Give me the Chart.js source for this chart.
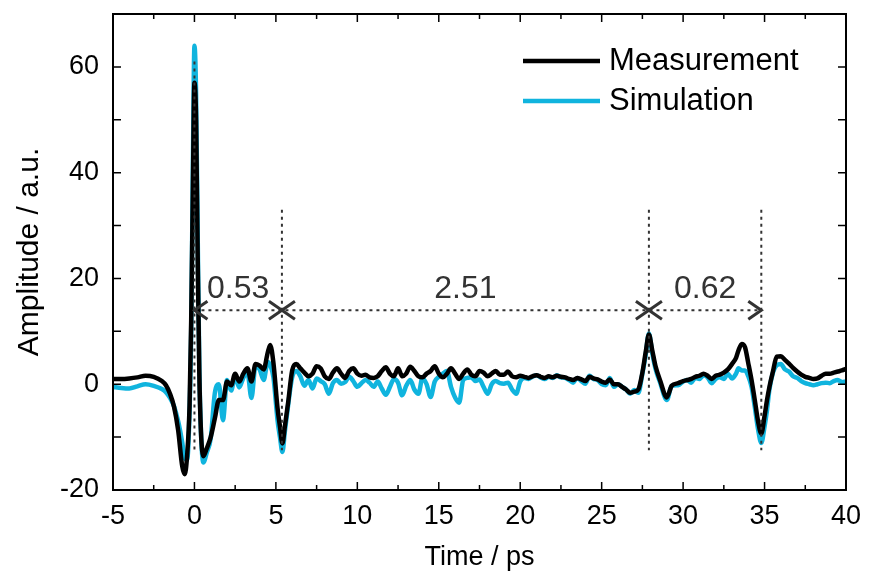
<!doctype html>
<html>
  <head>
    <title>Measurement vs Simulation</title>
    <script src="https://cdn.jsdelivr.net/npm/chart.js"></script>
    <style>
      body {
        margin: 0;
        background: #fff;
      }
      #wrap {
        width: 875px;
        height: 582px;
      }
    </style>
  </head>
  <body>
    <div id="wrap"><canvas id="pulse" width="875" height="582"></canvas></div>

    <script>
      // time axis in ps (shared by both traces)
      const timePs = [
        -5, -4.5, -4, -3.5, -3, -2.5, -2, -1.75, -1.5, -1.25, -1, -0.75, -0.6, -0.45, -0.3, -0.2, -0.1, 0, 0.1, 0.2, 0.3, 0.4, 0.55, 0.75, 1,
        1.25, 1.5, 1.75, 2, 2.25, 2.5, 2.75, 3, 3.25, 3.5, 3.75, 4, 4.25, 4.5, 4.65, 4.85, 5.1, 5.25, 5.4, 5.55, 5.75, 6, 6.25, 6.5,
        6.75, 7, 7.25, 7.5, 7.75, 8, 8.25, 8.5,
        8.75, 9, 9.25, 9.5, 9.75, 10, 10.25, 10.5,
        10.75, 11, 11.25, 11.5, 11.75, 12, 12.25, 12.5,
        12.75, 13, 13.25, 13.5, 13.75, 14, 14.25, 14.5,
        14.75, 15, 15.25, 15.5, 15.75, 16, 16.25, 16.5,
        16.75, 17, 17.25, 17.5, 17.75, 18, 18.25, 18.5,
        18.75, 19, 19.25, 19.5, 19.75, 20,
        20.25, 20.5, 20.75, 21, 21.25, 21.5, 21.75, 22,
        22.25, 22.5, 22.75, 23, 23.25, 23.5, 23.75, 24,
        24.25, 24.5, 24.75, 25, 25.25, 25.5, 25.75, 26,
        26.25, 26.5, 26.75, 27, 27.25, 27.5,
        27.7, 27.9, 28.1, 28.3, 28.6, 29, 29.3, 29.7, 30,
        30.25, 30.5, 30.75, 31, 31.25, 31.5, 31.75, 32, 32.25, 32.5, 32.75, 33, 33.25,
        33.4, 33.6, 33.8, 34, 34.2, 34.4, 34.6, 34.8, 35, 35.15, 35.3, 35.5,
        35.75, 36, 36.25, 36.5, 36.75, 37, 37.25, 37.5, 37.75, 38, 38.25, 38.5, 38.75, 39, 39.25, 39.5, 39.75, 40,
      ];

      const measurement = [
        1.0, 1.0, 1.1, 1.3, 1.6, 1.4, 0.6, -0.2, -1.8, -4.3, -8.7, -15.5, -17.0, -13.5, -4, 12, 36, 57, 50, 24, 2, -9, -13.6, -12.2, -10.0,
        -6.5, -3.0, -3.0, 0.5, -0.2, 2.0, 0.5, 2.0, 3.0, 0.5, 3.8, 3.5, 2.8, 6.0, 7.4, 4.0, -4.5, -8.0, -11.2, -8.0, -3.5, 2.6, 3.8, 3.0,
        2.2, 1.5, 2.0, 3.4, 3.0, 1.5, 1.0, 2.2,
        3.0, 2.0, 1.2, 2.5, 3.0, 2.0, 1.6, 1.8,
        1.3, 1.2, 1.5, 2.5, 3.2, 2.0, 1.5, 3.0,
        1.5, 2.0, 3.3, 2.5, 1.5, 1.3, 2.0, 2.5,
        3.4, 2.0, 1.3, 2.0, 3.0, 2.0, 1.0, 2.0,
        2.8, 1.8, 1.5, 2.5, 2.2, 1.5, 2.0, 2.5,
        1.8, 1.8, 2.4, 1.5, 1.3, 1.6,
        1.4, 1.2, 1.5, 1.7, 1.4, 1.2, 1.5, 1.3,
        1.6, 1.4, 1.3, 1.0, 0.8, 1.2, 0.9, 0.6,
        1.4, 1.1, 0.9, 0.5, 0.3, 0.9, 0.0, 0.0,
        -0.5, -1.0, -1.6, -1.4, -1.0, 2.2,
        6.0, 9.4, 6.5, 3.5, 0.6, -2.5, -0.3, 0.2, 0.6,
        0.8, 1.0, 1.4, 1.6, 2.0, 1.6, 1.0, 1.6, 1.8, 2.2, 2.8, 3.8, 5.0,
        6.4, 7.6, 7.0, 4.0, 0.8, -3.0, -7.0, -9.3, -6.0, -3.0, -0.5, 2.2,
        5.2, 5.3, 4.6, 3.9, 3.1, 2.4, 1.8, 1.4, 1.2, 1.0, 1.1, 1.6, 2.0, 2.0, 2.2, 2.4, 2.6, 2.9,
      ];

      const simulation = [
        -0.5, -0.7, -0.8, -0.4, 0.0, -0.3, -0.9, -1.5, -2.6, -4.2, -7.0, -11.0, -14.0, -14.3, -5.0, 10, 40, 64, 55, 28, 3, -9, -14.8, -13.0, -10.2,
        -1.7, 0.0, -6.8, 0.8, -1.2, 1.5, -0.6, 1.2, 2.3, -2.6, 3.5, 2.8, 0.8, 4.2, 3.6, 1.3, -6.8, -10.0, -12.8, -9.0, -4.0, 1.3, 2.5, 1.5,
        -0.3, 0.8, -0.8, 1.1, 0.6, 0.0, -1.8, 0.2,
        0.8, 0.1, 0.4, 1.4, 0.6, -0.5, 0.2, 0.8,
        0.3, -0.5, 0.5, -0.8, -2.0, -0.5, 1.0, 0.3,
        -2.1, -0.3, 0.8, -1.0, -1.8, 1.2, 0.0, -2.4,
        0.5, 1.4, 2.0, 2.5, -0.5, -2.5, -3.5, 0.8,
        1.2, 1.3, 0.6, 0.9, -0.5, -1.8, 0.0, 0.6,
        0.2, 0.1, 0.3, -1.0, -1.8, 0.5,
        1.2, 1.0, 1.4, 1.7, 1.3, 1.0, 1.4, 1.2,
        1.7, 1.3, 1.2, 0.8, 0.3, 1.2, 0.6, 0.1,
        1.6, 1.0, 0.8, 0.0, -0.2, 1.2, -0.5, 0.0,
        -0.5, -1.0, -1.8, -1.1, -1.6, 2.0,
        5.5, 9.6, 6.0, 3.0, 0.2, -3.0, -0.3, -0.2, 0.5,
        0.8, 0.3, 1.2, 1.0, 1.7, 1.3, 0.2, 1.0, 1.3, 1.0, 2.0, 1.1, 2.0,
        3.0, 2.6, 2.6, 1.5, -0.5, -4.3, -8.5, -11.1, -8.0, -4.9, -1.0, 2.0,
        3.6, 3.8, 2.8, 2.4, 1.5, 1.2, 0.6, 0.2, 0.0, -0.2, 0.0, 0.2, 0.3, 0.2, 0.6, 0.8, 0.4, 0.5,
      ];

      // echo positions (ps) and the spacings written between them
      const markerTimes = [0, 5.37, 27.9, 34.8];
      const spacingLabels = ['0.53', '2.51', '0.62'];
      const arrowLevel = 14;

      const seriesNames = ['Measurement', 'Simulation'];
      const seriesColors = ['#000000', '#10b4de'];

      const FONT = "'Liberation Sans', Arial, sans-serif";

      const toPoints = (vals) => vals.map((v, i) => ({ x: timePs[i], y: v }));

      // frame, inward ticks, dotted markers, arrows, legend
      const decorations = {
        id: 'decorations',
        afterDatasetsDraw(chart) {
          const { ctx, chartArea: a, scales } = chart;
          const xs = scales.x;
          const ys = scales.y;
          ctx.save();

          // dotted markers
          ctx.strokeStyle = '#333';
          ctx.lineWidth = 2;
          ctx.setLineDash([3, 4]);
          markerTimes.forEach((t, i) => {
            const x = xs.getPixelForValue(t);
            ctx.beginPath();
            ctx.moveTo(x, ys.getPixelForValue(i === 0 ? 61 : 33));
            ctx.lineTo(x, ys.getPixelForValue(-12.5));
            ctx.stroke();
          });
          const yA = ys.getPixelForValue(arrowLevel);
          ctx.beginPath();
          ctx.moveTo(xs.getPixelForValue(markerTimes[0]), yA);
          ctx.lineTo(xs.getPixelForValue(markerTimes[markerTimes.length - 1]), yA);
          ctx.stroke();
          ctx.setLineDash([]);

          // arrow heads
          ctx.lineWidth = 3;
          ctx.strokeStyle = '#333';
          const head = (x, dir) => {
            ctx.beginPath();
            ctx.moveTo(x + dir * 13, yA - 9);
            ctx.lineTo(x, yA);
            ctx.lineTo(x + dir * 13, yA + 9);
            ctx.stroke();
          };
          for (let i = 0; i < markerTimes.length - 1; i++) {
            head(xs.getPixelForValue(markerTimes[i]), 1);
            head(xs.getPixelForValue(markerTimes[i + 1]), -1);
          }

          // spacing labels
          ctx.fillStyle = '#333';
          ctx.font = '32px ' + FONT;
          ctx.textAlign = 'center';
          ctx.textBaseline = 'bottom';
          spacingLabels.forEach((lab, i) => {
            const xm = (xs.getPixelForValue(markerTimes[i]) + xs.getPixelForValue(markerTimes[i + 1])) / 2;
            ctx.fillText(lab, xm, yA - 5);
          });

          // frame
          ctx.strokeStyle = '#000';
          ctx.lineWidth = 2;
          ctx.strokeRect(a.left, a.top, a.right - a.left, a.bottom - a.top);

          // x ticks (major every 5, minor between)
          ctx.lineWidth = 1.5;
          ctx.beginPath();
          for (let v = xs.min; v <= xs.max + 0.01; v += 2.5) {
            const x = xs.getPixelForValue(v);
            const len = Math.abs(v % 5) < 0.01 ? 8 : 5;
            ctx.moveTo(x, a.bottom);
            ctx.lineTo(x, a.bottom - len);
            ctx.moveTo(x, a.top);
            ctx.lineTo(x, a.top + len);
          }
          // y ticks every 10
          for (let v = ys.min; v <= ys.max; v += 10) {
            const y = ys.getPixelForValue(v);
            ctx.moveTo(a.left, y);
            ctx.lineTo(a.left + 8, y);
            ctx.moveTo(a.right, y);
            ctx.lineTo(a.right - 8, y);
          }
          ctx.stroke();

          // legend
          ctx.font = '31px ' + FONT;
          ctx.textAlign = 'left';
          ctx.textBaseline = 'middle';
          ctx.lineWidth = 4.5;
          seriesNames.forEach((name, i) => {
            const y = 61 + i * 40;
            ctx.strokeStyle = seriesColors[i];
            ctx.beginPath();
            ctx.moveTo(523, y);
            ctx.lineTo(600, y);
            ctx.stroke();
            ctx.fillStyle = '#000';
            ctx.fillText(name, 609, y);
          });

          ctx.restore();
        },
      };

      new Chart(document.getElementById('pulse'), {
        type: 'line',
        data: {
          datasets: [
            {
              label: seriesNames[0],
              data: toPoints(measurement),
              borderColor: seriesColors[0],
              borderWidth: 4.5,
              pointRadius: 0,
              cubicInterpolationMode: 'monotone',
            },
            {
              label: seriesNames[1],
              data: toPoints(simulation),
              borderColor: seriesColors[1],
              borderWidth: 4.5,
              pointRadius: 0,
              cubicInterpolationMode: 'monotone',
            },
          ],
        },
        options: {
          responsive: false,
          animation: false,
          layout: { padding: { top: 14, right: 29, left: 0, bottom: 0 } },
          plugins: {
            legend: { display: false },
            tooltip: { enabled: false },
          },
          scales: {
            x: {
              type: 'linear',
              min: -5,
              max: 40,
              grid: { display: false, drawTicks: false },
              border: { display: false },
              ticks: {
                stepSize: 5,
                padding: 10,
                color: '#000',
                font: { family: FONT, size: 27 },
                maxRotation: 0,
              },
              title: {
                display: true,
                text: 'Time / ps',
                color: '#000',
                font: { family: FONT, size: 27 },
                padding: { top: 0, bottom: 8 },
              },
              afterFit(scale) {
                scale.height = 92;
              },
            },
            y: {
              min: -20,
              max: 70,
              grid: { display: false, drawTicks: false },
              border: { display: false },
              ticks: {
                stepSize: 10,
                padding: 14,
                color: '#000',
                font: { family: FONT, size: 27 },
                callback: (v) => (v % 20 === 0 && v <= 60 ? v : ''),
              },
              title: {
                display: true,
                text: 'Amplitude / a.u.',
                color: '#000',
                font: { family: FONT, size: 30 },
                padding: { top: 12, bottom: 0 },
              },
              afterFit(scale) {
                scale.width = 113;
                scale.paddingTop = 0;
                scale.paddingBottom = 0;
              },
            },
          },
        },
        plugins: [decorations],
      });
    </script>
  </body>
</html>
